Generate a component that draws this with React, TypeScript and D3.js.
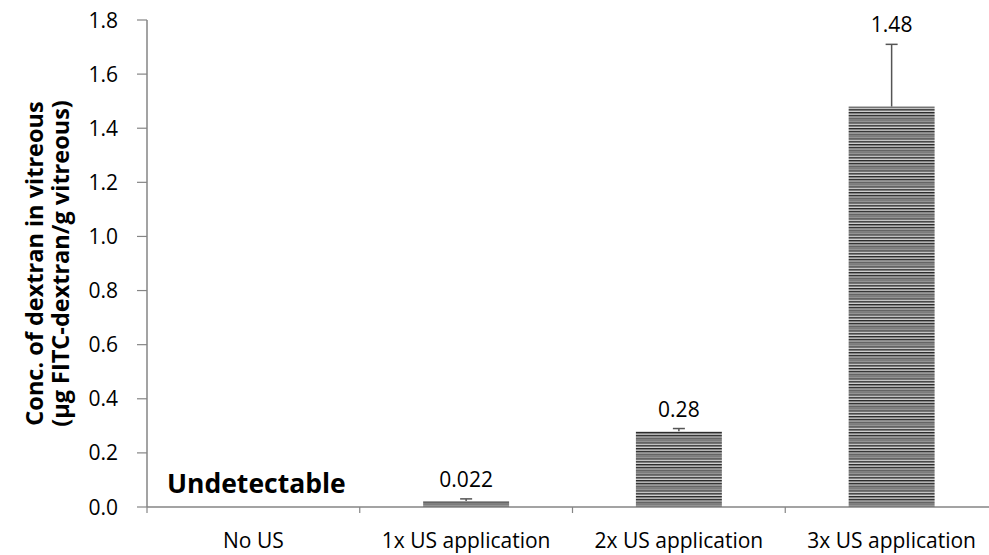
import React from "react";
import * as d3 from "d3";

const categories = ["No US", "1x US application", "2x US application", "3x US application"];
const values: (number | null)[] = [null, 0.022, 0.28, 1.48];
const errors: (number | null)[] = [null, 0.008, 0.01, 0.23];
const valueLabels = ["", "0.022", "0.28", "1.48"];
const yTicks = [0, 0.2, 0.4, 0.6, 0.8, 1.0, 1.2, 1.4, 1.6, 1.8];

const W = 989;
const H = 555;
const x0 = 147;
const y0 = 507;
const yTop = 20;
const FONT = "'Open Sans', sans-serif";

export default function App() {
  const y = d3.scaleLinear().domain([0, 1.8]).range([y0, yTop]);
  const x = d3
    .scaleBand<string>()
    .domain(categories)
    .range([x0, x0 + 4 * 212.75])
    .paddingInner(0.596)
    .paddingOuter(0.298);
  const step = x.step();
  const bw = x.bandwidth();
  const axisColor = "#858585";

  return (
    <svg
      width={W}
      height={H}
      style={{ position: "absolute", left: 0, top: 0, background: "#fff" }}
      fontFamily={FONT}
    >
      <defs>
        <pattern id="hstripe" patternUnits="userSpaceOnUse" width={10} height={3.2}>
          <rect width={10} height={3.2} fill="#fff" />
          <rect y={0} width={10} height={1.2} fill="#1e1e1e" />
          <rect y={1.6} width={10} height={1} fill="#707070" />
        </pattern>
      </defs>

      {categories.map((c, i) => {
        const v = values[i];
        if (v == null) return null;
        const bx = x(c)!;
        return (
          <rect
            key={"b" + i}
            x={bx}
            y={y(v)}
            width={bw}
            height={y0 - y(v)}
            fill="url(#hstripe)"
          />
        );
      })}

      {categories.map((c, i) => {
        const v = values[i];
        const e = errors[i];
        if (v == null || e == null) return null;
        const cx = x(c)! + bw / 2;
        return (
          <g key={"e" + i} stroke="#555" strokeWidth={1.5}>
            <line x1={cx} x2={cx} y1={y(v)} y2={y(v + e)} />
            <line x1={cx - 6} x2={cx + 6} y1={y(v + e)} y2={y(v + e)} />
          </g>
        );
      })}

      {categories.map((c, i) => {
        const v = values[i];
        const e = errors[i];
        if (v == null) return null;
        const cx = x(c)! + bw / 2;
        return (
          <text
            key={"v" + i}
            x={cx}
            y={y(v + (e || 0)) - 12}
            textAnchor="middle"
            fontSize={21}
            fill="#000"
          >
            {valueLabels[i]}
          </text>
        );
      })}

      <line x1={x0} x2={x0} y1={yTop} y2={y0} stroke={axisColor} strokeWidth={1.5} />
      {yTicks.map((t) => (
        <g key={"t" + t}>
          <line x1={x0 - 10} x2={x0} y1={y(t)} y2={y(t)} stroke={axisColor} strokeWidth={1.2} />
          <text
            x={x0 - 29}
            y={y(t)}
            dy="0.36em"
            textAnchor="end"
            fontSize={21}
            fill="#000"
          >
            {t.toFixed(1)}
          </text>
        </g>
      ))}

      <line x1={x0} x2={W} y1={y0} y2={y0} stroke={axisColor} strokeWidth={1.5} />
      {categories.map((c, i) => (
        <line
          key={"xt" + i}
          x1={x0 + i * step}
          x2={x0 + i * step}
          y1={y0}
          y2={y0 + 6}
          stroke={axisColor}
          strokeWidth={1.2}
        />
      ))}
      {categories.map((c, i) => (
        <text
          key={"xl" + i}
          x={x(c)! + bw / 2}
          y={y0 + 41}
          textAnchor="middle"
          fontSize={21}
          fill="#000"
        >
          {c}
        </text>
      ))}

      <text x={167} y={493} fontSize={26.5} fontWeight="bold" fill="#000">
        Undetectable
      </text>

      <g transform={`translate(43, ${(y0 + yTop) / 2}) rotate(-90)`}>
        <text textAnchor="middle" fontSize={23.5} fontWeight="bold" fill="#000">
          Conc. of dextran in vitreous
        </text>
      </g>
      <g transform={`translate(69, ${(y0 + yTop) / 2}) rotate(-90)`}>
        <text textAnchor="middle" fontSize={23.5} fontWeight="bold" fill="#000">
          (μg FITC-dextran/g vitreous)
        </text>
      </g>
    </svg>
  );
}
